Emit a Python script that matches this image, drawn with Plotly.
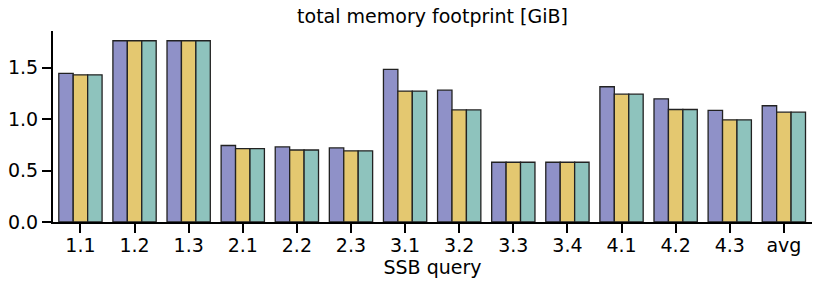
import plotly.graph_objects as go

categories = ["1.1", "1.2", "1.3", "2.1", "2.2", "2.3", "3.1", "3.2", "3.3", "3.4", "4.1", "4.2", "4.3", "avg"]
series_a = [1.445, 1.762, 1.762, 0.744, 0.730, 0.720, 1.484, 1.282, 0.581, 0.581, 1.315, 1.198, 1.085, 1.130]
series_b = [1.431, 1.762, 1.762, 0.714, 0.700, 0.692, 1.273, 1.090, 0.581, 0.581, 1.243, 1.094, 0.993, 1.068]
series_c = [1.431, 1.762, 1.762, 0.714, 0.700, 0.692, 1.273, 1.090, 0.581, 0.581, 1.243, 1.094, 0.993, 1.068]
colors = ["#8f91c8", "#e4c870", "#8ec3bd"]
names = ["a", "b", "c"]

fig = go.Figure()
for vals, col, nm in zip([series_a, series_b, series_c], colors, names):
    fig.add_trace(go.Bar(
        x=categories, y=vals, name=nm,
        marker=dict(color=col, line=dict(color="#222222", width=1.3)),
    ))

font = "DejaVu Sans, sans-serif"
fs = 19
# page body has an 8px margin; figure is sized to fill the rest of the window
fig.update_layout(
    width=822, height=281,
    margin=dict(l=45, r=18, t=23, b=67),
    barmode="group", bargap=0.2, bargroupgap=0,
    showlegend=False,
    plot_bgcolor="white", paper_bgcolor="white",
    font=dict(family=font, size=fs, color="black"),
    title=dict(text="total memory footprint [GiB]", x=0.5 + (45 - 18) / 2 / 822, xanchor="center",
               y=1 - 2 / 281, yanchor="top", font=dict(family=font, size=fs, color="black")),
)
fig.update_xaxes(
    range=[-0.507, 13.52], showline=True, linecolor="black", linewidth=2,
    ticks="outside", ticklen=9, tickwidth=2, tickcolor="black",
    showgrid=False, zeroline=False, automargin=False,
    ticklabelstandoff=-4,
    title=dict(text="SSB query", font=dict(family=font, size=fs), standoff=0),
    tickfont=dict(family=font, size=fs),
)
fig.update_yaxes(
    range=[0, 1.857], showline=True, linecolor="black", linewidth=2,
    ticks="outside", ticklen=9, tickwidth=2, tickcolor="black",
    showgrid=False, zeroline=False, automargin=False,
    tickvals=[0, 0.5, 1.0, 1.5], ticktext=["0.0", "0.5", "1.0", "1.5"],
    tickfont=dict(family=font, size=fs),
)
fig.write_html("out.html")
